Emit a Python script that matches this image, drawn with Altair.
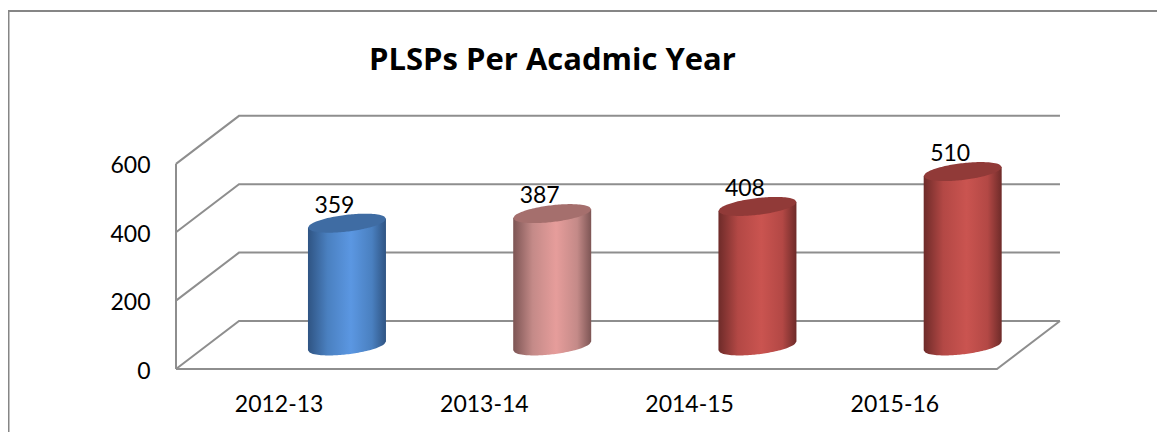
import json
import math
import altair as alt
import pandas as pd

CATEGORIES = ["2012-13", "2013-14", "2014-15", "2015-16"]
VALUES = [359, 387, 408, 510]
TICKS = [0, 200, 400, 600]
TITLE = "PLSPs Per Acadmic Year"
# edge, mid, light, cap colours per cylinder
SHADES = [
    ("#2F5483", "#4A80C0", "#5B97E2", "#3F6CA3"),
    ("#7D5554", "#C48A88", "#E69D9B", "#A56F6D"),
    ("#6E2B29", "#B34845", "#CA5450", "#913A38"),
    ("#6E2B29", "#B34845", "#CA5450", "#913A38"),
]
GRID = "#8E8E8E"
FONT = "Lato"

# 3D projection, in axis units
DEPTH_X = 0.307
DEPTH_Y = 140.4
BAR_SHIFT = 0.333
BAR_R = 0.19
BASE_Y = 67.5
ELL_B = 24.6
ELL_SKEW = 13.0
N = 48

X_SCALE = alt.Scale(domain=[0, 4.312], nice=False, zero=False)
Y_SCALE = alt.Scale(domain=[0, 740], nice=False, zero=False)
X = lambda f: alt.X(f, type="quantitative", scale=X_SCALE, title=None)
Y = lambda f: alt.Y(f, type="quantitative", scale=Y_SCALE, title=None)

# walls and floor
lines = []
for t in TICKS:
    lines += [
        dict(x=0, y=t, g=f"g{t}", o=0),
        dict(x=DEPTH_X, y=t + DEPTH_Y, g=f"g{t}", o=1),
        dict(x=4 + DEPTH_X, y=t + DEPTH_Y, g=f"g{t}", o=2),
    ]
lines += [dict(x=0, y=TICKS[0], g="v", o=0), dict(x=0, y=TICKS[-1], g="v", o=1)]
lines += [
    dict(x=0, y=0, g="f", o=0),
    dict(x=4, y=0, g="f", o=1),
    dict(x=4 + DEPTH_X, y=DEPTH_Y, g="f", o=2),
]

axis_x = alt.Axis(
    values=[i + 0.5 for i in range(len(CATEGORIES))],
    labelExpr=f"{json.dumps(CATEGORIES)}[floor(datum.value)]",
    domain=False, ticks=False, grid=False, labelPadding=24,
    labelFont=FONT, labelFontSize=23, labelColor="#000000",
)
axis_y = alt.Axis(
    values=TICKS, domain=False, ticks=False, grid=False, labelPadding=26,
    labelOffset=2,
    labelFont=FONT, labelFontSize=23, labelColor="#000000",
)
grid_layer = alt.Chart(pd.DataFrame(lines)).mark_line(
    color=GRID, strokeWidth=2, strokeJoin="miter"
).encode(
    x=alt.X("x:Q", scale=X_SCALE, title=None, axis=axis_x),
    y=alt.Y("y:Q", scale=Y_SCALE, title=None, axis=axis_y),
    detail="g:N",
    order="o:Q",
)

layers = [grid_layer]
for i, (v, sh) in enumerate(zip(VALUES, SHADES)):
    cx = i + 0.5 + BAR_SHIFT
    body, cap = [], []
    top = BASE_Y + v
    for k in range(N + 1):
        c = -1 + 2 * k / N
        s = math.sqrt(max(0, 1 - c * c))
        xx = cx + BAR_R * c
        body.append(dict(x=xx, y=top + ELL_SKEW * c, y2=BASE_Y + ELL_SKEW * c - ELL_B * s))
        cap.append(dict(x=xx, y=top + ELL_SKEW * c + ELL_B * s, y2=top + ELL_SKEW * c - ELL_B * s))
    grad = alt.Gradient(
        gradient="linear", x1=0, x2=1, y1=0, y2=0,
        stops=[
            alt.GradientStop(color=sh[0], offset=0),
            alt.GradientStop(color=sh[1], offset=0.25),
            alt.GradientStop(color=sh[2], offset=0.55),
            alt.GradientStop(color=sh[1], offset=0.82),
            alt.GradientStop(color=sh[0], offset=1),
        ],
    )
    layers.append(alt.Chart(pd.DataFrame(body)).mark_area(color=grad, opacity=1).encode(
        x=X("x"), y=Y("y"), y2="y2:Q"))
    layers.append(alt.Chart(pd.DataFrame(cap)).mark_area(color=sh[3], opacity=1).encode(
        x=X("x"), y=Y("y"), y2="y2:Q"))

labels = pd.DataFrame({
    "x": [i + 0.5 + 0.272 for i in range(len(VALUES))],
    "y": [v + 118 for v in VALUES],
    "t": [str(v) for v in VALUES],
})
layers.append(alt.Chart(labels).mark_text(
    font=FONT, fontSize=23, color="#000000", baseline="middle", align="center"
).encode(x=X("x"), y=Y("y"), text="t:N"))

frame_color = "#868686"
frame = [
    alt.Chart(pd.DataFrame({"a": [0]})).mark_rule(color=frame_color, strokeWidth=2).encode(
        x=alt.value(-167.5), y=alt.value(-105), y2=alt.value(316)),
    alt.Chart(pd.DataFrame({"a": [0]})).mark_rule(color=frame_color, strokeWidth=2).encode(
        x=alt.value(-168), x2=alt.value(981), y=alt.value(-105)),
]

chart = alt.layer(*frame, *layers).properties(
    width=885,
    height=253,
    padding={"left": 168, "top": 108, "right": 96, "bottom": 63},
    autosize=alt.AutoSizeParams(type="none"),
    title=alt.TitleParams(
        TITLE, anchor="start", frame="group", dx=193, dy=71,
        font="Open Sans", fontSize=31, fontWeight="bold", color="#000000",
    ),
).configure_view(stroke=None)

chart.save("out.html", embed_options={"renderer": "svg", "actions": False})
